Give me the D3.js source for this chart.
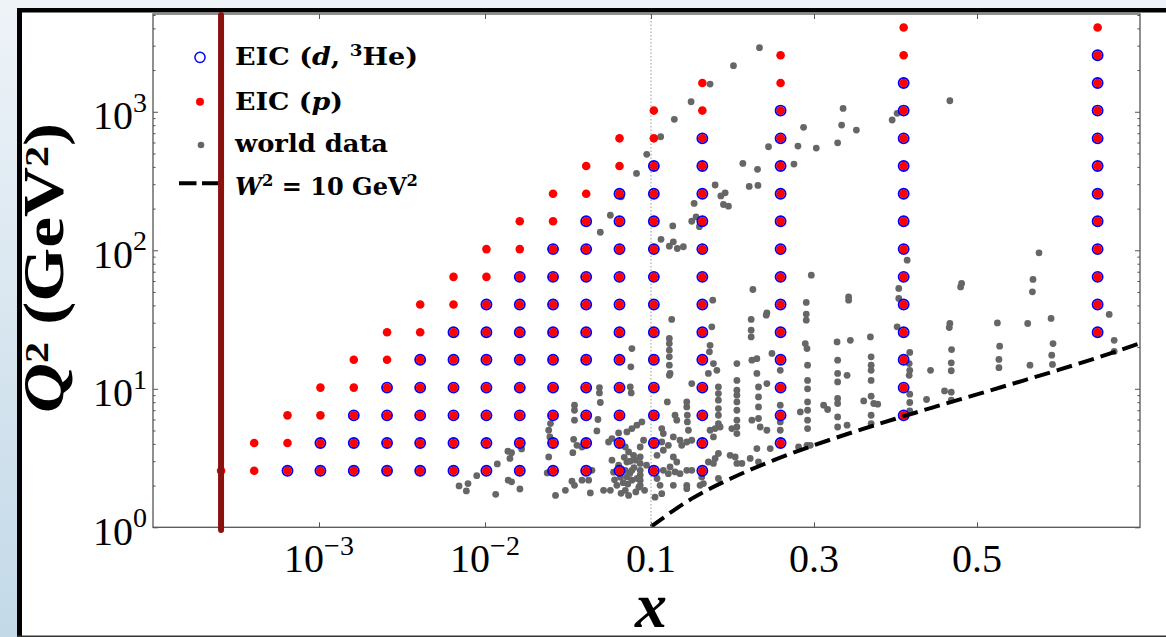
<!DOCTYPE html>
<html><head><meta charset="utf-8">
<script src="https://cdn.jsdelivr.net/npm/d3@7"></script>
<style>
html,body{margin:0;padding:0;background:#fff;}
svg{display:block;}
text{white-space:pre;}
</style></head><body>
<svg id="chart" width="1166" height="637"></svg>
<script>
// ---------------- DATA ----------------
// EIC grid: x columns and Q^2 rows
const eicX = [2.57e-4, 4.07e-4, 6.46e-4, 1.02e-3, 1.62e-3, 2.57e-3, 4.07e-3, 6.46e-3,
              0.0102, 0.0162, 0.0257, 0.0407, 0.0646, 0.1035, 0.163, 0.259, 0.410, 0.648];
const eicQ2 = [2.56, 4.06, 6.43, 10.2, 16.2, 25.6, 40.6, 64.3, 102, 162, 256, 406, 643,
               1020, 1615, 2560, 4060];
// per column: first and last row index for proton (p) points, last row for d/3He points
const pRowMin = [0,0,0,0,0,0,0,0,0,0,0,0,0,0,0,1,2,5];
const pRowMax = [0,1,2,3,4,5,6,7,8,9,10,11,12,13,14,15,16,16];
const dRowMax = [-1,-1,0,1,2,3,4,5,6,7,8,9,10,11,12,13,14,15];

// world data [x, Q^2]
const worldPoints = [
 [0.00698,1.99],[0.0079,2.07],[0.00772,1.83],[0.00892,2.36],[0.01186,2.87],[0.01374,3.54],[0.01446,3.46],
 [0.01413,3.14],[0.01662,3.68],[0.0138,2.19],[0.01446,2.13],[0.01623,1.89],[0.0116,1.73],
 [0.0248,5.61],[0.0242,5.02],[0.0246,4.49],[0.0242,3.22],[0.0237,2.47],
 [0.0346,7.61],[0.0346,7.0],[0.0346,5.93],[0.0342,4.32],[0.0338,3.46],[0.0334,2.15],[0.0346,2.01],
 [0.0305,1.85],[0.0266,1.70],[0.0384,2.19],[0.0431,1.77],
 [0.0489,10.2],[0.0489,9.34],[0.0495,7.96],[0.0479,6.0],[0.0472,4.96],
 [0.075,10.3],[0.076,9.34],[0.0881,5.76],[0.0822,5.46],[0.0767,5.16],[0.0716,4.88],[0.0555,4.13],
 [0.070,3.80],[0.0733,3.50],[0.0785,3.31],[0.0804,3.05],
 [0.0861,3.80],[0.0861,3.22],[0.0861,2.89],[0.0861,2.58],[0.0861,2.38],[0.0861,2.19],[0.0861,2.01],
 [0.0716,2.96],[0.070,2.58],[0.0767,2.58],[0.0716,2.31],[0.0767,2.19],
 [0.0582,3.05],[0.0638,2.81],[0.0623,2.01],[0.0569,1.85],[0.0518,1.85],
 [0.0441,2.58],[0.0421,2.19],[0.070,1.85],[0.0733,1.70],
 [0.0655,2.30],[0.068,2.10],[0.0725,2.05],[0.0745,2.45],[0.079,2.70],[0.0825,2.25],[0.0845,1.95],
 [0.066,1.76],[0.0603,2.20],[0.0595,2.50],[0.0645,2.62],[0.069,3.20],[0.0748,3.00],[0.081,1.80],
 [0.0943,493],[0.0818,359],[0.0662,243],[0.0569,179],[0.0495,135],
 [0.0767,19.5],[0.0756,14.4],
 [0.0582,4.37],[0.0638,4.80],[0.0358,3.91],[0.0384,3.80],
 [0.0902,4.25],[0.094,2.81],[0.0915,1.85],
 [0.1234,12.9],[0.1500,10.9],[0.1200,8.04],[0.1439,8.04],[0.1439,7.40],[0.1295,6.44],[0.1316,5.93],
 [0.1446,6.44],[0.1446,5.76],[0.1459,5.02],[0.1132,5.16],[0.1151,4.75],[0.1274,4.49],[0.1356,4.25],
 [0.1377,3.91],[0.1439,4.13],[0.1500,4.25],[0.1132,4.13],[0.1213,3.91],[0.1151,3.60],[0.1274,3.22],
 [0.1316,2.96],[0.1234,2.73],[0.1151,2.58],[0.1213,2.44],[0.1295,2.51],[0.1356,2.44],[0.1439,2.58],
 [0.1500,2.58],[0.1274,2.01],[0.1439,2.01],[0.1439,1.90],[0.1111,2.01],[0.1132,1.75],[0.1049,1.65],
 [0.1602,2.01],[0.1623,2.31],[0.1074,3.31],[0.1074,2.25],
 [0.1725,20.6],[0.1717,18.5],[0.1766,15.2],[0.1808,13.6],[0.1704,12.9],[0.2054,15.2],[0.2238,16.1],
 [0.2299,16.5],[0.2229,31.7],[0.2229,26.5],[0.2229,23.7],[0.2484,18.0],
 [0.1827,10.3],[0.1827,9.24],[0.1827,8.27],[0.1827,7.20],[0.1827,6.44],[0.1827,5.61],
 [0.1787,5.16],[0.1848,5.30],[0.1725,5.02],[0.1766,4.49],[0.1827,3.41],[0.1787,3.14],[0.1766,2.89],
 [0.1704,2.96],[0.1827,2.25],[0.1643,2.07],
 [0.2054,11.5],[0.2054,9.76],[0.2054,8.99],[0.2054,8.04],[0.2054,7.00],[0.2054,5.93],[0.2054,5.30],[0.2054,4.75],
 [0.1992,5.16],[0.1971,3.31],[0.2033,3.22],[0.2054,2.89],[0.2115,2.89],[0.2217,3.14],
 [0.2319,10.3],[0.2319,8.74],[0.2319,7.40],[0.2319,6.10],
 [0.2299,12.9],[0.2238,5.93],[0.2340,5.30],[0.2422,5.02],[0.2299,3.70],[0.2319,2.96],[0.2422,10.9],
 [0.2586,13.6],[0.2586,7.61],[0.2586,5.76],[0.2586,5.02],[0.2463,3.70],
 [0.2921,14.8],[0.2921,11.5],[0.2921,10.0],[0.2921,8.04],[0.2921,7.00],[0.2921,5.93],[0.2921,5.16],
 [0.2893,21.2],[0.2914,19.5],[0.2832,6.81],[0.2811,3.80],[0.2914,3.91],[0.2955,3.91],
 [0.3283,21.8],[0.3446,22.4],
 [0.3290,16.1],[0.3290,12.9],[0.3290,11.2],[0.3290,8.51],[0.3290,7.83],[0.3290,6.26],[0.3290,5.30],
 [0.3406,12.5],[0.3406,5.46],[0.3118,7.61],[0.3167,7.09],
 [0.2012,2150],[0.2331,2900],[0.1725,1586],[0.1492,1181],[0.1286,882],[0.1119,660],
 [0.3357,1058],[0.3959,872],[0.4020,974],[0.2872,772],[0.3339,802],[0.3520,738],[0.2803,565],
 [0.3028,547],[0.3290,597],[0.2442,559],[0.2127,424],[0.2307,384],[0.2754,419],
 [0.1787,296],[0.2205,289],[0.2312,294],[0.1857,247],[0.1910,260],[0.1889,214],[0.1950,208],
 [0.1529,218],[0.1500,162],[0.1553,174],[0.1594,148],[0.1267,150],
 [0.1123,120],[0.1225,107],[0.1274,115],[0.1323,103],[0.1397,106],
 [0.2967,66.1],[0.2250,52.1],[0.1758,43.6],[0.1746,28.0],[0.3425,46.1],[0.3425,43.6],
 [0.2905,42.0],[0.2905,34.6],[0.2905,31.3],[0.2422,35.3],[0.2414,34.0],[0.1254,31.7],
 [0.1225,23.1],[0.1225,21.2],[0.1225,19.0],[0.1225,17.0],[0.1225,14.8],[0.1225,12.5],
 [0.4040,53.0],[0.4040,44.9],[0.4020,28.0],[0.3692,23.7],
 [0.4667,1201],[0.5761,95.8],[0.4143,84.9],[0.4811,57.6],[0.4799,54.4],[0.5687,61.6],[0.5680,50.1],
 [0.4667,29.6],[0.4660,27.7],[0.5250,29.9],[0.5622,29.6],[0.5909,32.2],[0.6622,34.4],
 [0.3701,17.0],[0.4175,18.3],[0.4688,19.2],[0.5278,20.3],[0.5933,21.2],[0.6683,22.4],
 [0.3701,14.8],[0.3701,13.6],[0.3701,11.5],[0.4168,15.2],[0.4175,13.6],[0.4168,12.5],[0.4430,13.6],
 [0.4684,15.4],[0.4684,13.5],[0.5269,16.3],[0.5269,14.2],[0.5650,14.8],[0.5917,17.5],[0.5926,15.0],
 [0.6683,18.6],
 [0.3701,8.84],[0.3610,8.17],[0.3733,7.83],[0.3782,7.74],[0.3701,6.44],[0.3701,5.61],
 [0.4175,9.14],[0.4175,7.96],[0.4175,6.92],[0.4381,8.37],[0.4602,9.65],[0.4684,9.45],[0.4684,8.27]
];

// W^2 = 10 GeV^2 boundary
const w2X  = [0.1, 0.15, 0.2, 0.25, 0.3, 0.35, 0.4, 0.45, 0.5, 0.55, 0.6, 0.65, 0.7];
const w2Q2 = [1.01, 1.61, 2.28, 3.04, 3.91, 4.91, 6.08, 7.46, 9.12, 11.15, 13.68, 16.94, 21.28];

// axes
const xMin = 1e-4, xBreak = 0.1, xMax = 0.7;
const yMin = 1, yMax = 5080;
const xTickValues = [1e-3, 1e-2, 0.1, 0.3, 0.5];
const xTickLabels = [["10","\u22123"],["10","\u22122"],["0.1"],["0.3"],["0.5"]];
const yTickValues = [1, 10, 100, 1000];
const yTickLabels = [["10","0"],["10","1"],["10","2"],["10","3"]];
const highlightX = 2.57e-4;

// ---------------- DRAW ----------------
const W = 1166, H = 637;
const svg = d3.select('#chart');
const defs = svg.append('defs');
const grad = defs.append('linearGradient').attr('id','bg').attr('x1',0).attr('y1',0).attr('x2',0).attr('y2',1);
grad.append('stop').attr('offset','0%').attr('stop-color','#eef3f8');
grad.append('stop').attr('offset','100%').attr('stop-color','#c3d9e8');
svg.append('rect').attr('width',W).attr('height',H).attr('fill','url(#bg)');
svg.append('rect').attr('x',17).attr('y',8).attr('width',W-17).attr('height',H-8).attr('fill','#fff');
svg.append('rect').attr('x',17).attr('y',8).attr('width',W-17).attr('height',4.5).attr('fill','#000');
svg.append('rect').attr('x',17).attr('y',8).attr('width',5).attr('height',H-8).attr('fill','#000');
svg.append('line').attr('x1',17).attr('x2',W).attr('y1',636.2).attr('y2',636.2)
   .attr('stroke','#333').attr('stroke-width',1.5);

const PL = 153, PR = 1140, PT = 14, PB = 527.3, PX = 651;
const xLog = d3.scaleLog().domain([xMin, xBreak]).range([PL, PX]);
const xLin = d3.scaleLinear().domain([xBreak, xMax]).range([PX, PR]);
const X = v => v <= xBreak ? xLog(v) : xLin(v);
const Y = d3.scaleLog().domain([yMin, yMax]).range([PB, PT]);

defs.append('clipPath').attr('id','plotclip').append('rect')
  .attr('x',PL).attr('y',PT).attr('width',PR-PL).attr('height',PB-PT);

// dotted line at x = 0.1
svg.append('line').attr('x1',X(xBreak)).attr('x2',X(xBreak)).attr('y1',PT).attr('y2',PB)
  .attr('stroke','#9a9a9a').attr('stroke-width',1).attr('stroke-dasharray','1.5,2');

const plot = svg.append('g').attr('clip-path','url(#plotclip)');

// world data
plot.append('g').selectAll('circle').data(worldPoints).join('circle')
  .attr('cx',d=>X(d[0])).attr('cy',d=>Y(d[1])).attr('r',3.4).attr('fill','#666666');

// EIC points
const dPts = [], pPts = [];
eicX.forEach((x,c)=>{
  for(let k=pRowMin[c];k<=pRowMax[c];k++) pPts.push([x,eicQ2[k]]);
  for(let k=pRowMin[c];k<=dRowMax[c];k++) dPts.push([x,eicQ2[k]]);
});
plot.append('g').selectAll('circle').data(dPts).join('circle')
  .attr('cx',d=>X(d[0])).attr('cy',d=>Y(d[1])).attr('r',5)
  .attr('fill','none').attr('stroke','#0000ff').attr('stroke-width',1.9);
plot.append('g').selectAll('circle').data(pPts).join('circle')
  .attr('cx',d=>X(d[0])).attr('cy',d=>Y(d[1])).attr('r',4.3).attr('fill','#ff0000');

// W^2 line
const w2 = w2X.map((x,i)=>[x,w2Q2[i]]);
plot.append('path').datum(w2)
  .attr('d', d3.line().x(d=>X(d[0])).y(d=>Y(d[1])).curve(d3.curveMonotoneX))
  .attr('fill','none').attr('stroke','#000').attr('stroke-width',4).attr('stroke-dasharray','16,7');

// spines
svg.append('rect').attr('x',PL).attr('y',PT).attr('width',PR-PL).attr('height',PB-PT)
  .attr('fill','none').attr('stroke','#555').attr('stroke-width',1.3);

// ticks
const yAll = Y.ticks();
const yMinor = yAll.filter(v => Math.abs(Math.log10(v) - Math.round(Math.log10(v))) > 1e-6);
function styleAxis(g){ g.select('.domain').remove(); g.selectAll('line').attr('stroke','#555').attr('stroke-width',1); }
svg.append('g').attr('transform',`translate(${PL},0)`).call(d3.axisLeft(Y).tickValues(yTickValues).tickSize(-5).tickFormat('')).call(styleAxis);
svg.append('g').attr('transform',`translate(${PL},0)`).call(d3.axisLeft(Y).tickValues(yMinor).tickSize(-2.6).tickFormat('')).call(styleAxis);
svg.append('g').attr('transform',`translate(${PR},0)`).call(d3.axisRight(Y).tickValues(yTickValues).tickSize(-5).tickFormat('')).call(styleAxis);
svg.append('g').attr('transform',`translate(${PR},0)`).call(d3.axisRight(Y).tickValues(yMinor).tickSize(-2.6).tickFormat('')).call(styleAxis);
const xLogTicks = xTickValues.filter(v=>v<xBreak), xLinTicks = xTickValues.filter(v=>v>=xBreak);
svg.append('g').attr('transform',`translate(0,${PB})`).call(d3.axisBottom(xLog).tickValues(xLogTicks).tickSize(-5).tickFormat('')).call(styleAxis);
svg.append('g').attr('transform',`translate(0,${PB})`).call(d3.axisBottom(xLin).tickValues(xLinTicks).tickSize(-5).tickFormat('')).call(styleAxis);
svg.append('g').attr('transform',`translate(0,${PT})`).call(d3.axisTop(xLog).tickValues(xLogTicks).tickSize(-5).tickFormat('')).call(styleAxis);
svg.append('g').attr('transform',`translate(0,${PT})`).call(d3.axisTop(xLin).tickValues(xLinTicks).tickSize(-5).tickFormat('')).call(styleAxis);

const tickFont = '"Liberation Serif","DejaVu Serif",serif';
// y tick labels
yTickValues.forEach((v,i)=>{
  const t = svg.append('text').attr('x',147).attr('y',Y(v)+17.5).attr('text-anchor','end')
    .style('font-family',tickFont).style('font-size','40px').attr('fill','#000');
  t.append('tspan').text(yTickLabels[i][0]);
  t.append('tspan').attr('dy',-17.5).style('font-size','28px').text(yTickLabels[i][1]);
});
// x tick labels
xTickValues.forEach((v,i)=>{
  const t = svg.append('text').attr('x',X(v)).attr('y',571.7).attr('text-anchor','middle')
    .style('font-family',tickFont).style('font-size','40px').attr('fill','#000');
  t.append('tspan').text(xTickLabels[i][0]);
  if(xTickLabels[i][1]) t.append('tspan').attr('dy',-16.5).style('font-size','28px').text(xTickLabels[i][1]);
});

// axis titles
svg.append('text').attr('x',X(xBreak)).attr('y',627).attr('text-anchor','middle')
  .style('font-family',tickFont).style('font-weight','bold').style('font-style','italic')
  .style('font-size','64px').text('x');
const yt = svg.append('text').attr('transform','translate(63,268) rotate(-90)').attr('text-anchor','middle')
  .style('font-family',tickFont).style('font-weight','bold').style('font-size','56px')
  .attr('textLength',290).attr('lengthAdjust','spacingAndGlyphs');
yt.append('tspan').style('font-style','italic').text('Q');
yt.append('tspan').attr('dy',-15).style('font-size','34px').text('2');
yt.append('tspan').attr('dy',15).text(' (GeV');
yt.append('tspan').attr('dy',-15).style('font-size','34px').text('2');
yt.append('tspan').attr('dy',15).text(')');

// legend
const legFont = '"DejaVu Serif",serif';
const lx = 200, tx = 235;
const leg = svg.append('g');
leg.append('circle').attr('cx',lx).attr('cy',57.3).attr('r',5.1).attr('fill','#fff')
  .attr('stroke','#0000ff').attr('stroke-width',1.5);
leg.append('circle').attr('cx',lx).attr('cy',101.7).attr('r',4).attr('fill','#ff0000');
leg.append('circle').attr('cx',lx+1).attr('cy',145).attr('r',3.3).attr('fill','#666666');
leg.append('line').attr('x1',179).attr('x2',224).attr('y1',183.3).attr('y2',183.3)
  .attr('stroke','#000').attr('stroke-width',4).attr('stroke-dasharray','17.5,5.5');

function legText(y, len){
  return leg.append('text').attr('x',tx).attr('y',y).attr('textLength',len).attr('lengthAdjust','spacingAndGlyphs')
    .style('font-family',legFont).style('font-weight','bold').style('font-size','25px').attr('fill','#000');
}
let t1 = legText(65,183);
t1.append('tspan').text('EIC (');
t1.append('tspan').style('font-style','italic').text('d');
t1.append('tspan').text(', ');
t1.append('tspan').attr('dy',-9).style('font-size','17px').text('3');
t1.append('tspan').attr('dy',9).text('He)');
let t2 = legText(110,108);
t2.append('tspan').text('EIC (');
t2.append('tspan').style('font-style','italic').text('p');
t2.append('tspan').text(')');
let t3 = legText(151.7,153);
t3.append('tspan').text('world data');
let t4 = legText(195,183);
t4.append('tspan').style('font-style','italic').text('W');
t4.append('tspan').attr('dy',-9).style('font-size','17px').text('2');
t4.append('tspan').attr('dy',9).text(' = 10 GeV');
t4.append('tspan').attr('dy',-9).style('font-size','17px').text('2');

// highlight vertical bar
svg.append('line').attr('x1',X(highlightX)).attr('x2',X(highlightX)).attr('y1',15).attr('y2',530)
  .attr('stroke','#8b1111').attr('stroke-width',6).attr('stroke-linecap','round');
</script>
</body></html>
